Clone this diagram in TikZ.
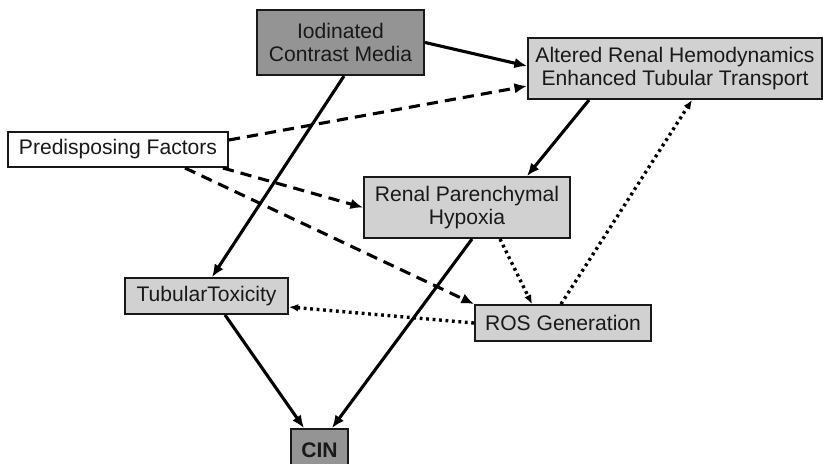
\documentclass[tikz,border=0pt]{standalone}
\usepackage{fontspec}
\setmainfont{Liberation Sans}
\usetikzlibrary{arrows.meta,calc}

\begin{document}
\begin{tikzpicture}[x=0.025cm,y=-0.025cm,
	box/.style={draw=black!90,line width=1.3pt,text=black!90,align=center,
		font=\fontsize{15}{16.5}\selectfont,inner sep=0pt},
	darkbox/.style={box,fill=black!42},
	lightbox/.style={box,fill=black!18},
	plainbox/.style={box,fill=white},
	solidarr/.style={line width=2.2pt,-{Latex[length=9pt,width=7.5pt]}},
	dasharr/.style={solidarr,dash pattern=on 8pt off 5pt},
	dotarr/.style={line width=2.4pt,dash pattern=on 2pt off 2.6pt,-{Latex[length=6.5pt,width=5.5pt]}}]
	
	\useasboundingbox (0,0) rectangle (823,464);
	
	% Nodi
	\node[darkbox,minimum width=4.18cm,minimum height=1.63cm] (icm) at (340.5,42.5) {Iodinated\\Contrast Media};
	\node[lightbox,minimum width=7.35cm,minimum height=1.53cm] (arh) at (675,68.5) {Altered Renal Hemodynamics\\Enhanced Tubular Transport};
	\node[plainbox,minimum width=5.5cm,minimum height=0.88cm] (pf) at (118,149.5) {Predisposing Factors};
	\node[lightbox,minimum width=5.15cm,minimum height=1.53cm] (rph) at (467,207.5) {Renal Parenchymal\\Hypoxia};
	\node[lightbox,minimum width=4.08cm,minimum height=0.9cm] (tt) at (206.5,296) {TubularToxicity};
	\node[lightbox,minimum width=4.4cm,minimum height=0.9cm] (ros) at (563,323) {ROS Generation};
	\node[darkbox,minimum width=1.43cm,minimum height=1.05cm,font=\fontsize{15}{16.5}\selectfont\bfseries] (cin) at (319.5,450) {CIN};
	
	% Frecce piene
	\draw[solidarr] (icm.east) -- ($(arh.west)+(0,-2.5)$);
	\draw[solidarr] ($(icm.south)+(3.5,0)$) -- ($(tt.north)+(5.5,0)$);
	\draw[solidarr] ($(arh.south)+(-86,0)$) -- ($(rph.north)+(60,0)$);
	\draw[solidarr] ($(rph.south)+(5,0)$) -- ($(cin.north)+(12.5,0)$);
	\draw[solidarr] ($(tt.south)+(18.5,0)$) -- ($(cin.north)+(-15.5,0)$);
	
	% Frecce tratteggiate
	\draw[dasharr] ($(pf.east)+(0,-9.5)$) -- ($(arh.west)+(0,17.5)$);
	\draw[dasharr] ($(pf.south east)+(-6,0)$) -- (rph.west);
	\draw[dasharr] ($(pf.south)+(67,0)$) -- (ros.north west);
	
	% Frecce punteggiate
	\draw[dotarr] ($(rph.south)+(33,0)$) -- ($(ros.north)+(-31,0)$);
	\draw[dotarr] ($(ros.north)+(-2,0)$) -- ($(arh.south)+(17,0)$);
	\draw[dotarr] (ros.west) -- ($(tt.east)+(0,11)$);
	
\end{tikzpicture}
\end{document}
